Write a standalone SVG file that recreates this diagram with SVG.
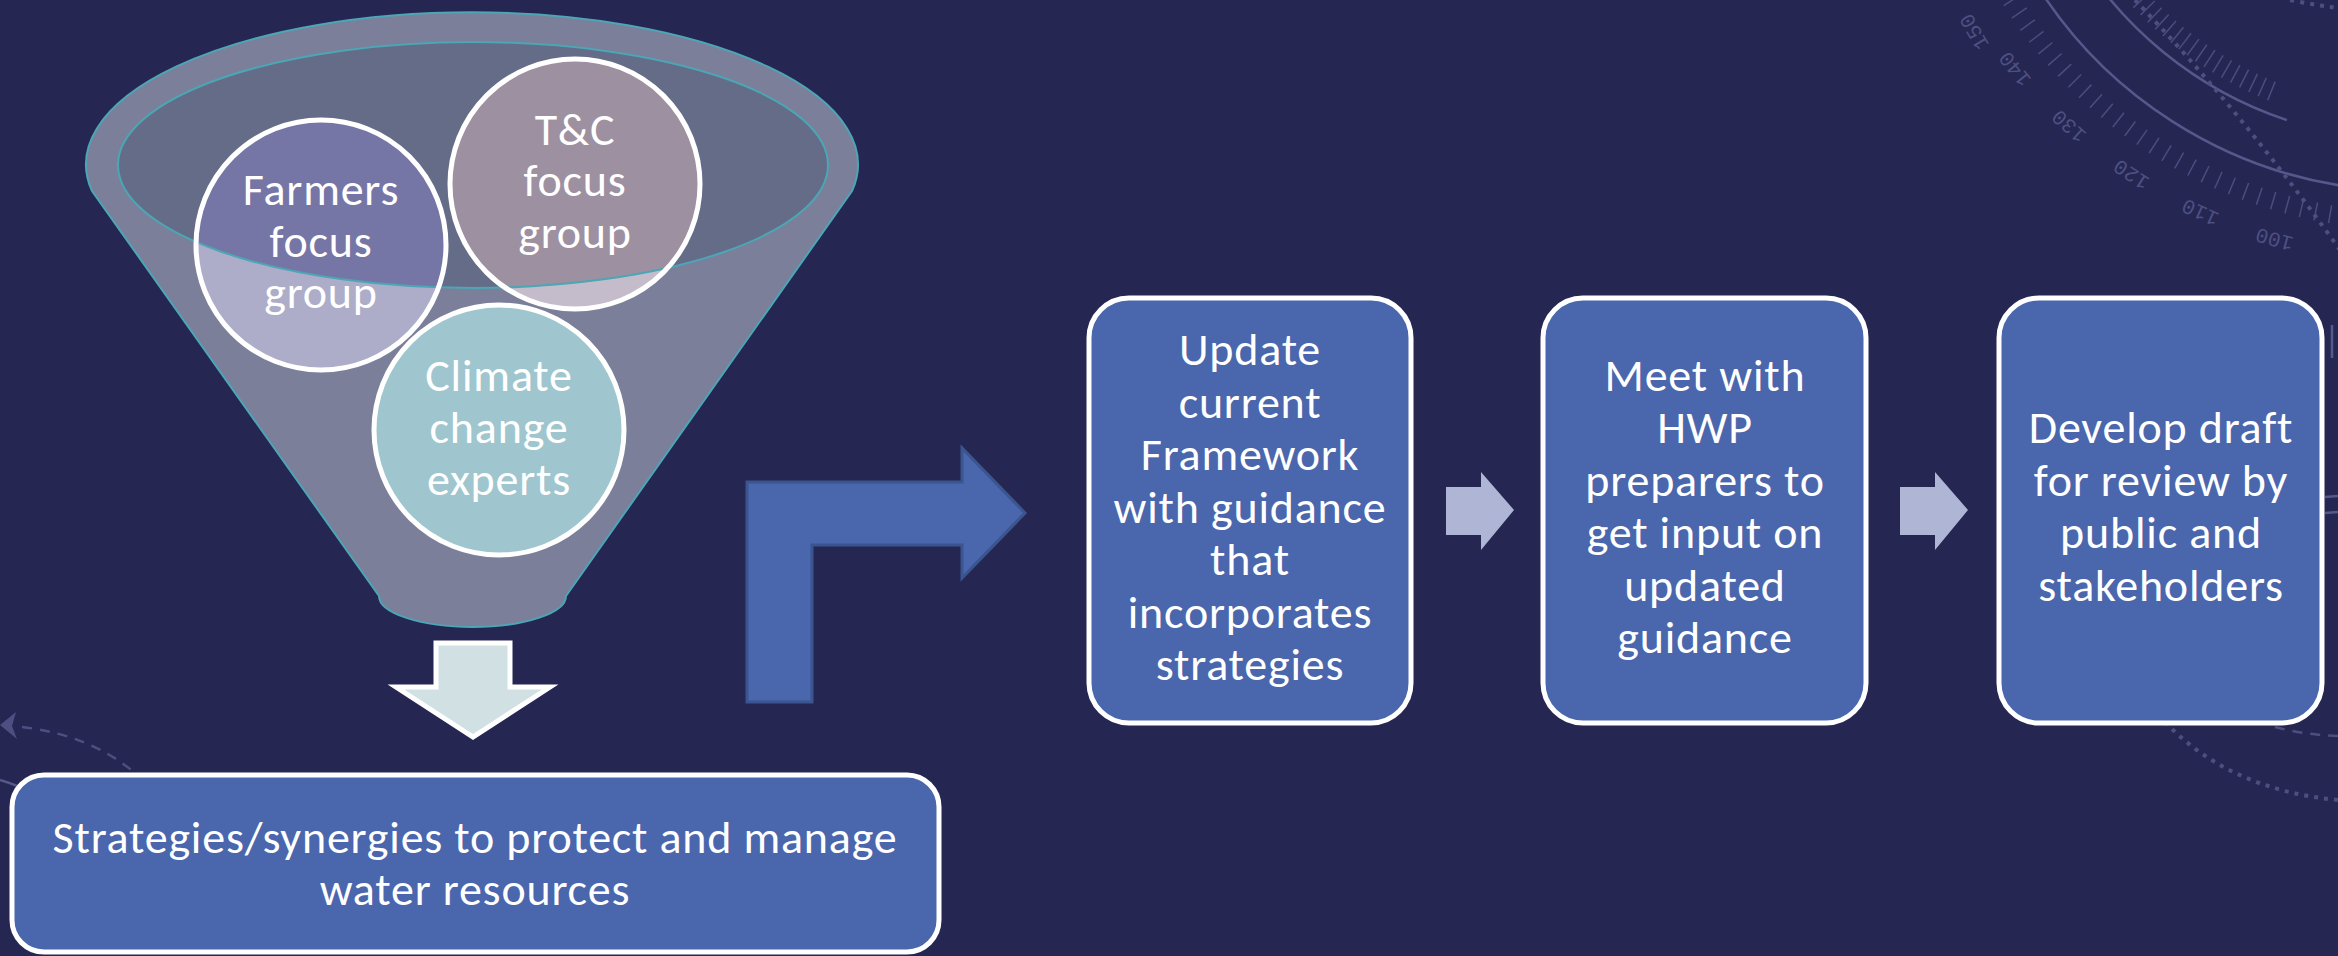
<svg xmlns="http://www.w3.org/2000/svg" width="2338" height="956" viewBox="0 0 2338 956">
<style>
.bg{fill:#262652}
.deco{fill:none;stroke:#55588a;stroke-width:2.5}
.tick{fill:none;stroke:#4a4d7e}
.dots{fill:none;stroke:#4c4f80;stroke-width:4;stroke-dasharray:4 6}
.dash{fill:none;stroke:#4c4f80;stroke-width:2.5;stroke-dasharray:10 8}
.num{font-family:"Liberation Mono",monospace;font-size:21px;fill:#4d5083;text-anchor:middle}
.t{font-family:Carlito,Calibri,Lato,"Liberation Sans",sans-serif;font-size:46px;letter-spacing:0.8px;fill:#ffffff;text-anchor:middle}
.box{fill:#4a66ac;stroke:#ffffff;stroke-width:5}
.ring{fill:none;stroke:#ffffff;stroke-width:5}
.small{fill:#afb5d5}
</style>
<defs>
<clipPath id="innerClip"><ellipse cx="473" cy="165" rx="355" ry="123"/></clipPath>
</defs>
<rect class="bg" x="0" y="0" width="2338" height="956"/>

<g id="background-decoration">
<path class="deco" d="M2028.1,-29.5 A441 441 0 0 0 2371.6,189.3"/>
<path class="deco" d="M2072.3,-55 A390 390 0 0 0 2286.9,120.1"/>
<circle class="tick" cx="2410" cy="-250" r="471" stroke-width="18" stroke-dasharray="1.5 13.13"/>
<path class="tick" d="M2272.1,91.2 A368 368 0 0 1 2108.6,-38.9" stroke-width="20" stroke-dasharray="1.5 8.5"/>
<path class="dots" d="M2135,0 Q2240,110 2340,250"/>
<path class="dots" d="M2290,0 Q2315,5 2338,8"/>
<text class="num" transform="translate(2274.3,239.5) rotate(195.5)" dy="7">100</text>
<text class="num" transform="translate(2200.1,212.6) rotate(204.4)" dy="7">110</text>
<text class="num" transform="translate(2131.1,174.6) rotate(213.3)" dy="7">120</text>
<text class="num" transform="translate(2068.8,126.3) rotate(222.2)" dy="7">130</text>
<text class="num" transform="translate(2014.7,69.0) rotate(231.1)" dy="7">140</text>
<text class="num" transform="translate(1974,32) rotate(240)" dy="7">150</text>
<path class="dots" d="M2165,722 Q2230,790 2338,800"/>
<path class="dash" d="M2275,727 Q2305,735 2338,736"/>
<path class="deco" d="M2332,325 L2332,358" stroke-width="2"/>
<path class="deco" d="M2325,497 L2338,496 M2325,513 L2338,512" stroke-width="2"/>
<polygon points="0,725 16,712 12,726 17,739" fill="#4c4f80"/>
<path class="dash" d="M22,727 Q90,735 135,773"/>
<path class="deco" d="M0,780 Q10,783 20,787"/>
</g>

<g id="funnel">
<path d="M92,191 A386 152 0 1 1 852,191 L566,596 A93.5 31 0 0 1 379,596 Z" fill="#7b7f99" stroke="#4ba6b5" stroke-width="2"/>
<ellipse cx="473" cy="165" rx="355" ry="123" fill="#646c88"/>
</g>

<g id="node-farmers">
<circle cx="321" cy="245" r="125" fill="#adadca"/>
<circle cx="321" cy="245" r="125" fill="#7676a6" clip-path="url(#innerClip)"/>
</g>
<g id="node-tc">
<circle cx="575" cy="184" r="125" fill="#c5bccb"/>
<circle cx="575" cy="184" r="125" fill="#9d90a1" clip-path="url(#innerClip)"/>
</g>
<g id="node-climate">
<circle cx="499" cy="430" r="125" fill="#9fc6ce"/>
</g>
<ellipse id="funnel-rim" cx="473" cy="165" rx="355" ry="123" fill="none" stroke="#4ba6b5" stroke-width="2"/>
<g id="circle-labels">
<circle class="ring" cx="321" cy="245" r="125"/>
<circle class="ring" cx="575" cy="184" r="125"/>
<circle class="ring" cx="499" cy="430" r="125"/>
<text class="t" x="321" y="205">Farmers</text>
<text class="t" x="321" y="257">focus</text>
<text class="t" x="321" y="308">group</text>
<text class="t" x="575" y="145">T&amp;C</text>
<text class="t" x="575" y="196">focus</text>
<text class="t" x="575" y="248">group</text>
<text class="t" x="499" y="391">Climate</text>
<text class="t" x="499" y="443">change</text>
<text class="t" x="499" y="495">experts</text>
</g>

<g id="connectors">
<path id="arrow-down" d="M436,643 L510,643 L510,687 L550,687 L473,737 L396,687 L436,687 Z" fill="#d1e0e3" stroke="#ffffff" stroke-width="5" stroke-linejoin="miter"/>
<path id="arrow-elbow" d="M747,702 L747,482 L962,482 L962,448 L1025,513 L962,578 L962,545 L812,545 L812,702 Z" fill="#4a66ac" stroke="#3a5590" stroke-width="3"/>
<path id="arrow-1" class="small" d="M1446,487 L1481,487 L1481,472 L1514,510 L1481,550 L1481,535 L1446,535 Z"/>
<path id="arrow-2" class="small" d="M1900,487 L1935,487 L1935,472 L1968,510 L1935,550 L1935,535 L1900,535 Z"/>
</g>

<g id="node-strategies">
<rect class="box" x="12" y="775" width="927" height="177" rx="32"/>
<text class="t" x="475" y="853">Strategies/synergies to protect and manage</text>
<text class="t" x="475" y="905">water resources</text>
</g>

<g id="node-update">
<rect class="box" x="1089" y="298" width="322" height="425" rx="40"/>
<text class="t" x="1250" y="365">Update</text>
<text class="t" x="1250" y="417.5">current</text>
<text class="t" x="1250" y="470">Framework</text>
<text class="t" x="1250" y="522.5">with guidance</text>
<text class="t" x="1250" y="575">that</text>
<text class="t" x="1250" y="627.5">incorporates</text>
<text class="t" x="1250" y="680">strategies</text>
</g>

<g id="node-meet">
<rect class="box" x="1543" y="298" width="323" height="425" rx="40"/>
<text class="t" x="1705" y="390.5">Meet with</text>
<text class="t" x="1705" y="443">HWP</text>
<text class="t" x="1705" y="495.5">preparers to</text>
<text class="t" x="1705" y="548">get input on</text>
<text class="t" x="1705" y="600.5">updated</text>
<text class="t" x="1705" y="653">guidance</text>
</g>

<g id="node-develop">
<rect class="box" x="1999" y="298" width="323" height="425" rx="40"/>
<text class="t" x="2161" y="443">Develop draft</text>
<text class="t" x="2161" y="495.5">for review by</text>
<text class="t" x="2161" y="548">public and</text>
<text class="t" x="2161" y="600.5">stakeholders</text>
</g>
</svg>
